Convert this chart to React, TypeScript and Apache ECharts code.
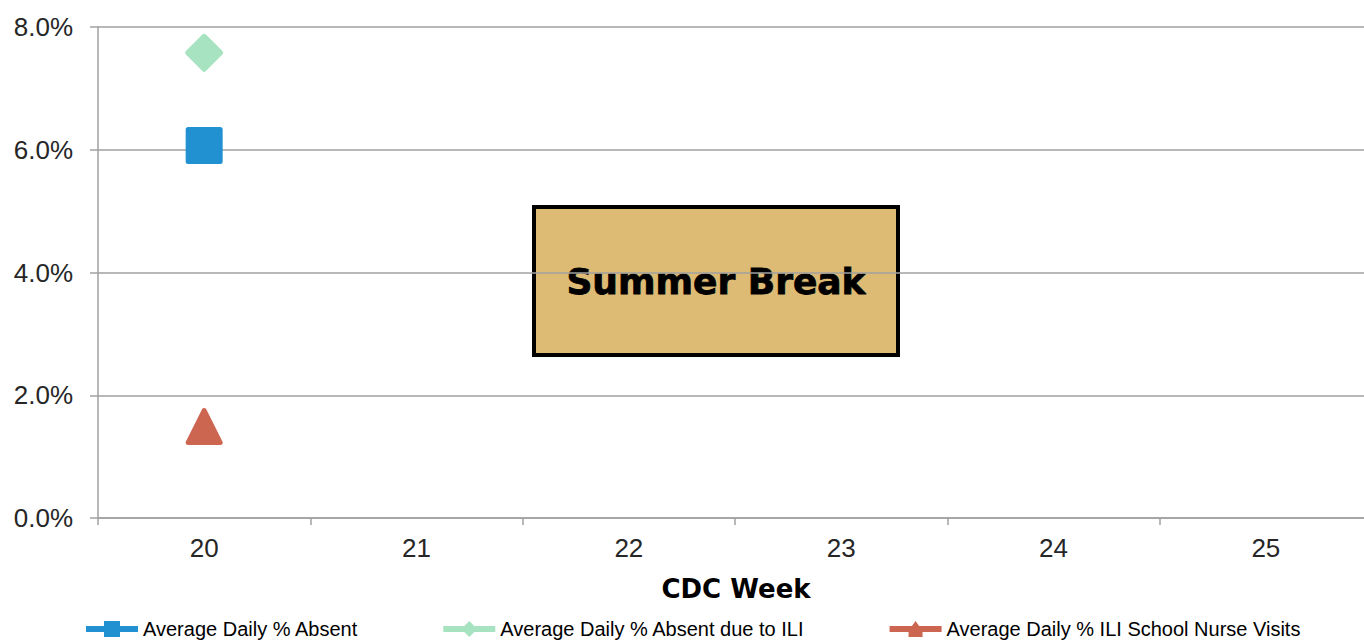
import React, { useEffect, useRef } from "react";
import * as echarts from "echarts";

const weeks = ["20", "21", "22", "23", "24", "25"];
const absent = [0.0607, null, null, null, null, null];
const absentILI = [0.0758, null, null, null, null, null];
const nurseVisits = [0.0149, null, null, null, null, null];
const yTicks = { min: 0, max: 0.08, interval: 0.02 };
const seriesNames = [
  "Average Daily % Absent",
  "Average Daily % Absent due to ILI",
  "Average Daily % ILI School Nurse Visits",
];
const colors = ["#2291d2", "#a7e3c1", "#cd6651"];
const boxLabel = "Summer Break";

const legendIcons = [
  "path://M0,5H18V0H34V5H52V11H34V16H18V11H0Z",
  "path://M0,5H21L26,0L31,5H52V11H31L26,16L21,11H0Z",
  "path://M0,5H22.4L26,0L29.6,5H52V11H33V16H19V11H0Z",
];

export default function App() {
  const ref = useRef<HTMLDivElement>(null);
  useEffect(() => {
    if (!ref.current) return;
    const chart = echarts.init(ref.current, null, { renderer: "svg" });
    const font = "Liberation Sans, Arial, sans-serif";
    const mk = (i: number, data: (number | null)[], symbol: string, size: number) => ({
      name: seriesNames[i],
      type: "line",
      data,
      symbol,
      symbolSize: size,
      itemStyle: { color: colors[i], borderColor: colors[i], borderWidth: 5, borderJoin: "round" },
      lineStyle: { color: colors[i], width: 5 },
    });
    chart.setOption({
      animation: false,
      backgroundColor: "#ffffff",
      grid: {
        left: 98,
        width: 1274,
        top: 27,
        bottom: 123,
        containLabel: false,
        outerBoundsMode: "none",
      },
      xAxis: {
        type: "category",
        data: weeks,
        boundaryGap: true,
        name: "CDC Week",
        nameLocation: "middle",
        nameGap: 58,
        nameTextStyle: {
          fontFamily: "DejaVu Sans, sans-serif",
          fontSize: 26,
          fontWeight: "bold",
          color: "#000",
          padding: [0, 0, 0, 2],
        },
        axisLine: { lineStyle: { color: "#a0a0a0", width: 1.5 } },
        axisTick: { show: true, length: 7, lineStyle: { color: "#a0a0a0", width: 1.5 } },
        axisLabel: { fontFamily: font, fontSize: 26, color: "#262626", margin: 17 },
        splitLine: { show: false },
      },
      yAxis: {
        type: "value",
        min: yTicks.min,
        max: yTicks.max,
        interval: yTicks.interval,
        axisLine: { show: true, lineStyle: { color: "#a0a0a0", width: 1.5 } },
        axisTick: { show: true, length: 8, lineStyle: { color: "#a0a0a0", width: 1.5 } },
        axisLabel: {
          fontFamily: font,
          fontSize: 26,
          color: "#262626",
          margin: 25,
          formatter: (v: number) => (v * 100).toFixed(1) + "%",
        },
        splitLine: { show: true, lineStyle: { color: "#a0a0a0", width: 1.5 } },
      },
      legend: {
        bottom: -3,
        left: 81,
        itemGap: 85,
        itemWidth: 52,
        itemHeight: 16,
        itemStyle: { borderWidth: 0 },
        textStyle: { fontFamily: font, fontSize: 20, color: "#000" },
        data: seriesNames.map((n, i) => ({ name: n, icon: legendIcons[i] })),
      },
      series: [
        mk(0, absent, "rect", 32),
        mk(1, absentILI, "diamond", 33),
        mk(2, nurseVisits, "triangle", 32),
      ],
      graphic: [
        {
          type: "group",
          left: 532,
          top: 205,
          children: [
            {
              type: "rect",
              shape: { x: 2, y: 2, width: 364, height: 148 },
              style: { fill: "#debb74", stroke: "#000", lineWidth: 4 },
            },
            {
              type: "text",
              x: 184,
              y: 76,
              style: {
                text: boxLabel,
                fontFamily: "DejaVu Sans, sans-serif",
                fontWeight: 900,
                fontSize: 36,
                fill: "#000",
                stroke: "#000",
                lineWidth: 0.8,
                align: "center",
                verticalAlign: "middle",
              },
            },
          ],
        },
      ],
    });
    return () => chart.dispose();
  }, []);
  return <div ref={ref} style={{ position: "absolute", left: 0, top: 0, width: 1364, height: 641 }} />;
}
